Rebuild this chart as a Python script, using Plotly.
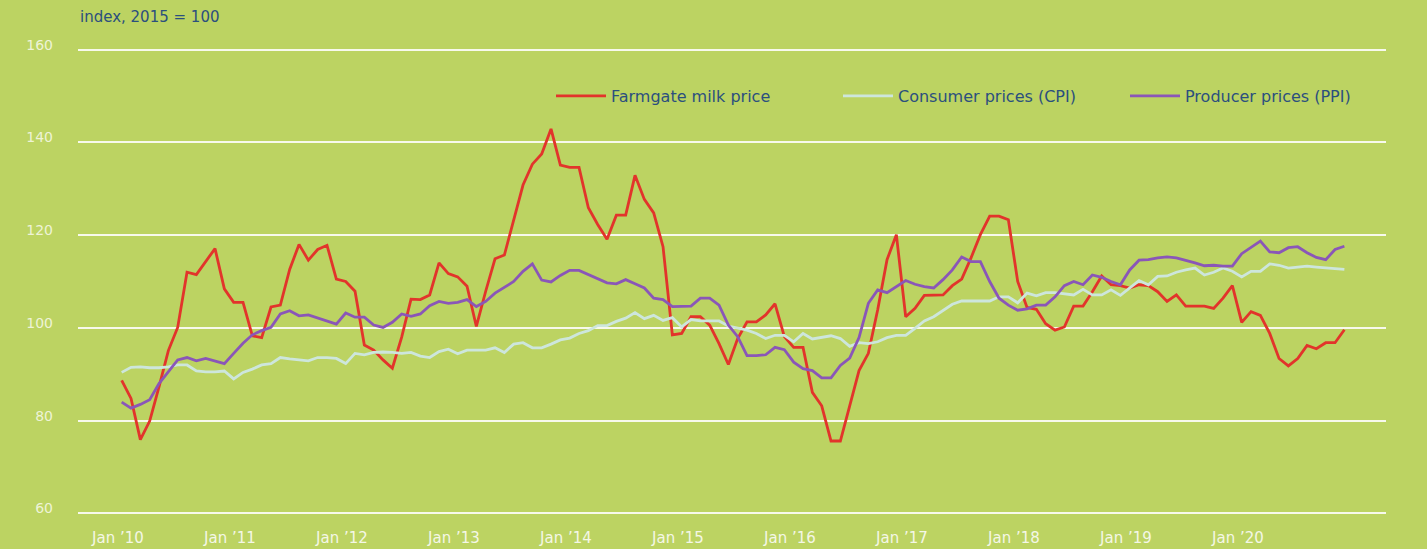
import plotly.graph_objects as go

# month index 0 = Jan 2010 ... 131 = Dec 2020
months = list(range(132))

milk = [
    88.7, 84.8, 75.9, 79.9, 87.3, 95.1, 100.1, 112.0, 111.5, 114.2, 117.1, 108.4,
    105.5, 105.5, 98.3, 97.9, 104.5, 104.9, 112.6, 118.0, 114.6, 116.9, 117.8, 110.5,
    110.0, 107.9, 96.3, 95.2, 93.1, 91.3, 98.0, 106.2, 106.1, 107.1, 114.0, 111.7,
    111.0, 109.0, 100.3, 107.9, 114.9, 115.7, 123.4, 130.8, 135.3, 137.5, 142.9, 135.1,
    134.6, 134.6, 125.9, 122.3, 119.1, 124.3, 124.3, 132.9, 127.7, 124.8, 117.5, 98.5,
    98.8, 102.4, 102.4, 100.6, 96.6, 92.1, 97.7, 101.3, 101.3, 102.8, 105.2, 98.1,
    95.8, 95.8, 86.1, 83.2, 75.6, 75.6, 83.2, 90.8, 94.5, 103.9, 114.7, 120.1,
    102.4, 104.2, 107.0, 107.0, 107.1, 109.1, 110.5, 115.1, 120.1, 124.1, 124.1, 123.3,
    110.0, 104.4, 104.0, 100.9, 99.5, 100.2, 104.7, 104.7, 107.8, 111.2, 109.3, 109.1,
    108.6, 109.3, 109.1, 107.8, 105.7, 107.1, 104.7, 104.7, 104.7, 104.2, 106.4, 109.1,
    101.2, 103.5, 102.7, 98.8, 93.4, 91.8, 93.4, 96.2, 95.5, 96.8, 96.8, 99.6,
]

cpi = [
    90.4, 91.5, 91.6, 91.4, 91.4, 91.6, 92.0, 92.0, 90.7, 90.5, 90.5, 90.7,
    89.0, 90.4, 91.1, 92.0, 92.3, 93.6, 93.3, 93.1, 92.9, 93.6, 93.6, 93.4,
    92.3, 94.5, 94.2, 94.7, 94.8, 94.7, 94.5, 94.7, 93.9, 93.6, 94.9, 95.4,
    94.4, 95.2, 95.2, 95.2, 95.7, 94.7, 96.5, 96.8, 95.7, 95.7, 96.5, 97.4,
    97.8, 98.8, 99.4, 100.5, 100.5, 101.4, 102.1, 103.3, 102.0, 102.7, 101.6, 102.2,
    100.2, 101.8, 101.5, 101.5, 101.5, 100.4, 99.9, 99.5, 98.8, 97.7, 98.4, 98.4,
    97.0, 98.8, 97.6, 97.9, 98.3, 97.7, 96.0, 96.8, 96.6, 97.0, 97.9, 98.4,
    98.4, 99.9, 101.5, 102.4, 103.7, 105.1, 105.8, 105.8, 105.8, 105.8, 106.7, 106.7,
    105.4, 107.5, 106.9, 107.6, 107.6, 107.3, 107.1, 108.3, 107.1, 107.1, 108.2, 107.0,
    108.6, 110.2, 109.3, 111.1, 111.2, 112.0, 112.5, 112.9, 111.4, 112.0, 112.9, 112.2,
    111.0, 112.2, 112.2, 113.8, 113.5, 112.9, 113.1, 113.3, 113.1, 112.9, 112.7, 112.6,
]

ppi = [
    84.0, 82.7, 83.5, 84.5, 88.0, 90.5, 93.1, 93.6, 92.9, 93.4, 92.9, 92.3,
    94.5, 96.7, 98.5, 99.4, 100.1, 103.0, 103.7, 102.6, 102.8, 102.1, 101.4, 100.8,
    103.2, 102.3, 102.3, 100.6, 100.1, 101.2, 103.0, 102.5, 103.0, 104.8, 105.7, 105.3,
    105.5, 106.1, 104.6, 105.7, 107.5, 108.7, 110.0, 112.2, 113.8, 110.3, 109.9, 111.3,
    112.4, 112.4, 111.5, 110.5, 109.7, 109.5, 110.4, 109.5, 108.6, 106.4, 106.1, 104.6,
    104.6, 104.7, 106.4, 106.4, 104.9, 100.6, 98.1, 94.0, 94.0, 94.2, 95.8, 95.3,
    92.6, 91.2, 90.8, 89.2, 89.2, 91.9, 93.5, 97.9, 105.3, 108.2, 107.6, 108.9,
    110.2, 109.4, 108.9, 108.6, 110.4, 112.5, 115.3, 114.3, 114.3, 110.0, 106.4, 104.9,
    103.8, 104.1, 104.9, 104.9, 106.7, 109.1, 110.0, 109.3, 111.4, 110.9, 110.0, 109.3,
    112.5, 114.6, 114.7, 115.1, 115.3, 115.1, 114.6, 114.0, 113.4, 113.5, 113.3, 113.3,
    116.0, 117.3, 118.7, 116.4, 116.2, 117.3, 117.5, 116.2, 115.2, 114.7, 116.9, 117.6,
]

series_names = ["Farmgate milk price", "Consumer prices (CPI)", "Producer prices (PPI)"]
series_colors = ["#e2342b", "#cde6dc", "#8a56b8"]

tick_months = [0, 12, 24, 36, 48, 60, 72, 84, 96, 108, 120]
tick_labels = ["Jan ’10", "Jan ’11", "Jan ’12", "Jan ’13", "Jan ’14", "Jan ’15",
               "Jan ’16", "Jan ’17", "Jan ’18", "Jan ’19", "Jan ’20"]
y_ticks = [60, 80, 100, 120, 140, 160]

BG = "#bcd362"
TEXT_BLUE = "#2b4f7e"
FONT = "DejaVu Sans"

fig = go.Figure()
for name, vals, col in zip(series_names, [milk, cpi, ppi], series_colors):
    fig.add_trace(go.Scatter(
        x=months, y=vals, mode="lines", name=name,
        line=dict(color=col, width=2.8),
    ))

fig.update_layout(
    width=1427, height=549,
    paper_bgcolor=BG, plot_bgcolor=BG,
    margin=dict(l=78, r=41, t=45, b=31, autoexpand=False),
    font=dict(family=FONT, size=14, color=TEXT_BLUE),
    showlegend=True,
    legend=dict(
        orientation="h", xref="container", yref="container",
        x=551 / 1427, xanchor="left", y=1 - 96 / 549, yanchor="middle",
        bgcolor="rgba(0,0,0,0)", font=dict(family=FONT, size=16, color=TEXT_BLUE),
        entrywidth=222, itemwidth=50,
    ),
    annotations=[dict(
        text="index, 2015 = 100", xref="paper", yref="paper",
        x=0, y=1.0, yshift=28, xanchor="left", yanchor="middle",
        showarrow=False, font=dict(family=FONT, size=15, color=TEXT_BLUE),
    )],
)

fig.update_xaxes(
    range=[-4.68, 135.46], automargin=False,
    tickvals=[m - 0.4 for m in tick_months], ticktext=tick_labels,
    showgrid=False, zeroline=False, showline=False, ticks="",
    tickfont=dict(family=FONT, size=15, color="#f4f7e6"),
    ticklabelstandoff=9,
)
fig.update_yaxes(
    range=[59, 161], tickvals=y_ticks, automargin=False,
    showgrid=True, gridcolor="#f7f9ec", gridwidth=2,
    zeroline=False, showline=False, ticks="",
    tickfont=dict(family=FONT, size=14, color="#eef3d6"),
    ticklabelstandoff=24, ticklabelshift=-5,
)

fig.write_html(
    "out.html",
    config={"displayModeBar": False},
    post_script="document.body.style.margin='0';",
)
